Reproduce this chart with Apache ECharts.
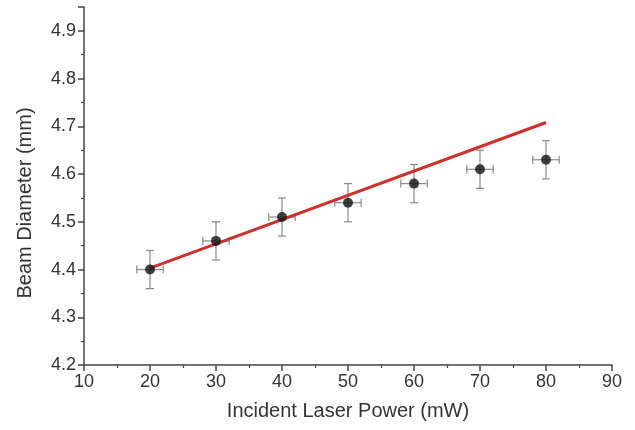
<!DOCTYPE html>
<html>
<head>
<meta charset="utf-8">
<script src="https://cdn.jsdelivr.net/npm/echarts@6/dist/echarts.min.js"></script>
<style>html,body{margin:0;padding:0;background:#fff}#c{width:635px;height:430px}</style>
</head>
<body>
<div id="c"></div>
<script>
var powers = [20, 30, 40, 50, 60, 70, 80];
var diameters = [4.40, 4.46, 4.51, 4.54, 4.58, 4.61, 4.63];
var yErr = [0.04, 0.04, 0.04, 0.04, 0.04, 0.04, 0.04];
var xErr = [2, 2, 2, 2, 2, 2, 2];
var fitX = [20, 80];
var fitY = [4.403, 4.708];
var xTicks = [10, 20, 30, 40, 50, 60, 70, 80, 90];
var yTicks = [4.2, 4.3, 4.4, 4.5, 4.6, 4.7, 4.8, 4.9];

var chart = echarts.init(document.getElementById('c'));
var font = 'Liberation Sans, Arial, sans-serif';
var axisColor = '#444';
var textColor = '#333';

var errData = powers.map(function (p, i) { return [p, diameters[i], xErr[i], yErr[i]]; });
var pts = powers.map(function (p, i) { return [p, diameters[i]]; });
var fit = fitX.map(function (x, i) { return [x, fitY[i]]; });

var option = {
  backgroundColor: '#fff',
  animation: false,
  grid: { left: 84, right: 23, top: 7, bottom: 65, containLabel: false },
  xAxis: {
    type: 'value', min: 10, max: 90, interval: 10,
    name: 'Incident Laser Power (mW)', nameLocation: 'middle', nameGap: 36,
    nameTextStyle: { fontFamily: font, fontSize: 20, color: textColor },
    axisLine: { show: true, onZero: false, lineStyle: { color: axisColor, width: 1.5 } },
    axisTick: { show: true, inside: false, length: 6, lineStyle: { color: axisColor, width: 1.5 } },
    minorTick: { show: true, splitNumber: 2, length: 3, lineStyle: { color: axisColor, width: 1.2 } },
    axisLabel: { fontFamily: font, fontSize: 18, color: textColor, margin: 8,
      formatter: function (v) { return xTicks.indexOf(v) >= 0 ? String(v) : ''; } },
    splitLine: { show: false }
  },
  yAxis: {
    type: 'value', min: 4.2, max: 4.95, interval: 0.1,
    name: 'Beam Diameter (mm)', nameLocation: 'middle', nameGap: 49, nameRotate: 90,
    nameTextStyle: { fontFamily: font, fontSize: 20, color: textColor, padding: [0, 0, 0, -34] },
    axisLine: { show: true, onZero: false, lineStyle: { color: axisColor, width: 1.5 } },
    axisTick: { show: true, inside: false, length: 6, lineStyle: { color: axisColor, width: 1.5 } },
    minorTick: { show: true, splitNumber: 2, length: 3, lineStyle: { color: axisColor, width: 1.2 } },
    axisLabel: { fontFamily: font, fontSize: 18, color: textColor, margin: 8, showMaxLabel: false,
      formatter: function (v) {
        var s = v.toFixed(1);
        return yTicks.map(function (t) { return t.toFixed(1); }).indexOf(s) >= 0 ? s : '';
      } },
    splitLine: { show: false }
  },
  series: [
    {
      type: 'custom',
      data: errData,
      z: 2,
      renderItem: function (params, api) {
        var x = api.value(0), y = api.value(1), ex = api.value(2), ey = api.value(3);
        var l = api.coord([x - ex, y]);
        var r = api.coord([x + ex, y]);
        var t = api.coord([x, y + ey]);
        var b = api.coord([x, y - ey]);
        var cap = 4;
        var st = { stroke: '#8a8a8a', lineWidth: 1.2 };
        return {
          type: 'group',
          children: [
            { type: 'line', shape: { x1: l[0], y1: l[1], x2: r[0], y2: r[1] }, style: st },
            { type: 'line', shape: { x1: t[0], y1: t[1], x2: b[0], y2: b[1] }, style: st },
            { type: 'line', shape: { x1: l[0], y1: l[1] - cap, x2: l[0], y2: l[1] + cap }, style: st },
            { type: 'line', shape: { x1: r[0], y1: r[1] - cap, x2: r[0], y2: r[1] + cap }, style: st },
            { type: 'line', shape: { x1: t[0] - cap, y1: t[1], x2: t[0] + cap, y2: t[1] }, style: st },
            { type: 'line', shape: { x1: b[0] - cap, y1: b[1], x2: b[0] + cap, y2: b[1] }, style: st }
          ]
        };
      }
    },
    {
      type: 'line',
      data: fit,
      symbol: 'none',
      z: 3,
      lineStyle: { color: '#d0302c', width: 3 }
    },
    {
      type: 'scatter',
      data: pts,
      symbol: 'circle',
      symbolSize: 10,
      z: 4,
      itemStyle: { color: '#111' }
    }
  ]
};
chart.setOption(option);
</script>
</body>
</html>
